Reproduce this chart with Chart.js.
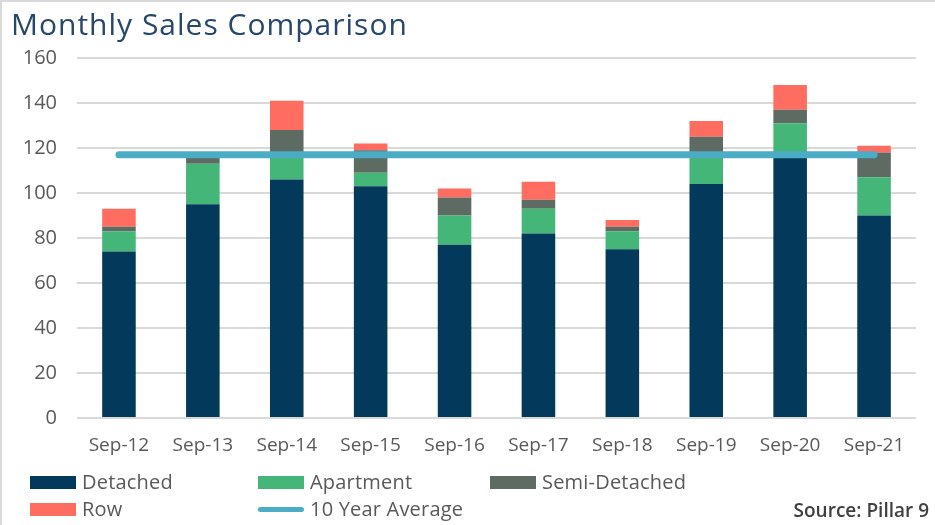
<!DOCTYPE html>
<html>
<head>
<meta charset="utf-8">
<script src="https://cdn.jsdelivr.net/npm/chart.js@4.4.0/dist/chart.umd.min.js"></script>
<style>
  html, body { margin: 0; padding: 0; background: #fff; }
  #wrap { position: relative; width: 935px; height: 525px; overflow: hidden; font-family: "Open Sans", sans-serif; }
  #frame { position: absolute; left: 0; top: 0; width: 960px; height: 560px; border-top: 2px solid #d9d9d9; border-left: 2px solid #d9d9d9; box-sizing: border-box; }
  #title { position: absolute; left: 11px; top: 3px; font-size: 30px; letter-spacing: 1px; color: #27476b; }
  canvas { position: absolute; left: 0; top: 0; }
  .lg { position: absolute; font-size: 20px; letter-spacing: 0.2px; color: #595959; line-height: 20px; }
  .lg i { position: absolute; left: 0; top: 4px; width: 46px; height: 13px; }
  .lg i.line { top: 8px; height: 5px; border-radius: 3px; }
  .lg span { position: absolute; left: 52px; top: 0; white-space: nowrap; }
  #source { position: absolute; right: 6px; top: 497px; font-size: 19px; font-weight: 600; color: #404040; }
</style>
</head>
<body>
<div id="wrap">
  <div id="frame"></div>
  <canvas id="chart" width="935" height="525"></canvas>
  <div id="title">Monthly Sales Comparison</div>
  <div id="legend"></div>
  <div id="source">Source: Pillar 9</div>
</div>
<script>
const months = ["Sep-12", "Sep-13", "Sep-14", "Sep-15", "Sep-16", "Sep-17", "Sep-18", "Sep-19", "Sep-20", "Sep-21"];
const detached = [74, 95, 106, 103, 77, 82, 75, 104, 116, 90];
const apartment = [9, 18, 11, 6, 13, 11, 8, 13, 15, 17];
const semiDetached = [2, 3, 11, 10, 8, 4, 2, 8, 6, 11];
const row = [8, 1, 13, 3, 4, 8, 3, 7, 11, 3];
const tenYearAverage = [117, 117, 117, 117, 117, 117, 117, 117, 117, 117];

const colors = {
  detached: "#033a5c",
  apartment: "#43b678",
  semi: "#5d6b62",
  row: "#ff6d60",
  avg: "#4bacc6"
};

function barSet(label, data, color) {
  return {
    type: "bar",
    label: label,
    data: data,
    backgroundColor: color,
    stack: "sales",
    order: 1,
    barPercentage: 0.5,
    categoryPercentage: 0.8
  };
}

const ctx = document.getElementById("chart");
const chart = new Chart(ctx, {
  data: {
    labels: months,
    datasets: [
      barSet("Detached", detached, colors.detached),
      barSet("Apartment", apartment, colors.apartment),
      barSet("Semi-Detached", semiDetached, colors.semi),
      barSet("Row", row, colors.row),
      {
        type: "line",
        label: "10 Year Average",
        data: tenYearAverage,
        borderColor: colors.avg,
        backgroundColor: colors.avg,
        borderWidth: 7,
        borderCapStyle: "round",
        pointRadius: 0,
        stack: "avg",
        order: 0
      }
    ]
  },
  options: {
    responsive: false,
    animation: false,
    layout: { padding: { top: 58, right: 19, bottom: 0, left: 0 } },
    plugins: {
      legend: { display: false },
      tooltip: { enabled: false }
    },
    scales: {
      x: {
        stacked: true,
        grid: { display: false },
        border: { display: false },
        ticks: {
          color: "#595959",
          font: { family: "Open Sans", size: 19 },
          padding: 8,
          maxRotation: 0
        },
        afterFit(scale) {
          scale.height = 107;
          scale.paddingLeft = 0;
          scale.paddingRight = 0;
        }
      },
      y: {
        stacked: true,
        min: 0,
        max: 160,
        grid: { color: "#d9d9d9", lineWidth: 2, drawTicks: false },
        border: { display: false },
        ticks: {
          stepSize: 20,
          color: "#595959",
          font: { family: "Open Sans", size: 20 },
          padding: 20
        },
        afterFit(scale) {
          scale.width = 77;
          scale.paddingTop = 0;
          scale.paddingBottom = 0;
        }
      }
    }
  }
});

// legend laid out in a grid like the original
const legendPos = [[30, 472], [258, 472], [490, 472], [30, 499], [258, 499]];
const legend = document.getElementById("legend");
chart.data.datasets.forEach(function (ds, i) {
  const item = document.createElement("div");
  item.className = "lg";
  item.style.left = legendPos[i][0] + "px";
  item.style.top = legendPos[i][1] + "px";
  const sw = document.createElement("i");
  if (ds.type === "line") sw.className = "line";
  sw.style.background = ds.backgroundColor;
  const txt = document.createElement("span");
  txt.textContent = ds.label;
  item.appendChild(sw);
  item.appendChild(txt);
  legend.appendChild(item);
});
</script>
</body>
</html>
